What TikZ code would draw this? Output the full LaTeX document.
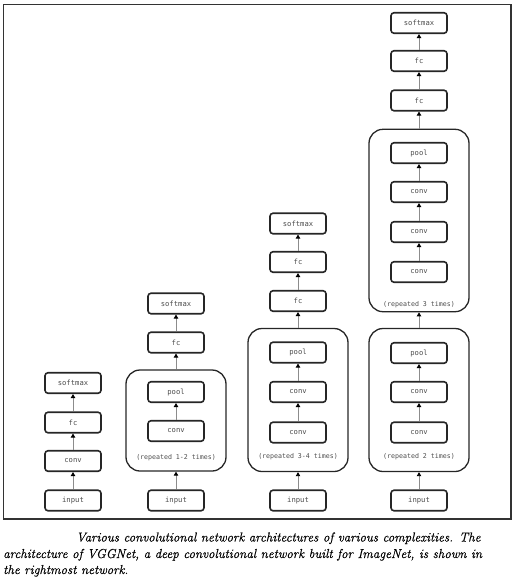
\documentclass[tikz,border=0pt]{standalone}
\usepackage{fontspec}
\newfontfamily\codefont{DejaVu Sans Mono}
\newfontfamily\capfont{Latin Modern Roman}[FakeBold=0.5]
\usetikzlibrary{arrows.meta}
\begin{document}
\begin{tikzpicture}[x=1pt,y=-1pt,
  layer/.style={draw=black!85, line width=1.6pt, rounded corners=3pt,
    minimum width=56pt, minimum height=20.5pt, inner sep=0pt,
    font=\codefont\fontsize{7.2}{8}\selectfont, text=black!70},
  block/.style={draw=black!85, line width=1.3pt, rounded corners=14pt,
    minimum width=100pt, inner sep=0pt},
  note/.style={font=\codefont\fontsize{6.6}{8}\selectfont, text=black!70, inner sep=0pt},
  flow/.style={draw=black!45, line width=0.9pt,
    -{Triangle[length=4pt,width=4.4pt,color=black]}},
  caption/.style={anchor=base west, inner sep=0pt,
    font=\capfont\itshape\fontsize{13}{16}\selectfont}
]
\useasboundingbox (0,0) rectangle (517,581);
% outer frame
\draw[line width=1.2pt, black!80] (3.5,4.5) rectangle (511,519);

% --- network 1 ---
\node[layer] (a-in)   at (73,500.5) {input};
\node[layer] (a-conv) at (73,461)   {conv};
\node[layer] (a-fc)   at (73,422.5) {fc};
\node[layer] (a-sm)   at (73,383)   {softmax};
\draw[flow] (a-in) -- (a-conv);
\draw[flow] (a-conv) -- (a-fc);
\draw[flow] (a-fc) -- (a-sm);

% --- network 2 ---
\node[block, minimum height=101pt] (b-grp) at (176,420.5) {};
\node[layer] (b-in)   at (176,500.5) {input};
\node[layer] (b-conv) at (176,431)   {conv};
\node[layer] (b-pool) at (176,392)   {pool};
\node[note]  (b-note) at (176,458)   {(repeated 1-2 times)};
\node[layer] (b-fc)   at (176,342.5) {fc};
\node[layer] (b-sm)   at (176,303.5) {softmax};
\draw[flow] (b-in) -- (b-grp);
\draw[flow] (b-conv) -- (b-pool);
\draw[flow] (b-grp) -- (b-fc);
\draw[flow] (b-fc) -- (b-sm);

% --- network 3 ---
\node[block, minimum height=143pt] (c-grp) at (298,400) {};
\node[layer] (c-in)    at (298,500.5) {input};
\node[layer] (c-conv1) at (298,432.5) {conv};
\node[layer] (c-conv2) at (298,392)   {conv};
\node[layer] (c-pool)  at (298,352.5) {pool};
\node[note]  (c-note)  at (298,457)   {(repeated 3-4 times)};
\node[layer] (c-fc1)   at (298,301)   {fc};
\node[layer] (c-fc2)   at (298,262)   {fc};
\node[layer] (c-sm)    at (298,223.5) {softmax};
\draw[flow] (c-in) -- (c-grp);
\draw[flow] (c-conv1) -- (c-conv2);
\draw[flow] (c-conv2) -- (c-pool);
\draw[flow] (c-grp) -- (c-fc1);
\draw[flow] (c-fc1) -- (c-fc2);
\draw[flow] (c-fc2) -- (c-sm);

% --- network 4 (VGGNet) ---
\node[block, minimum height=143pt] (d-grp1) at (419,400) {};
\node[layer] (d-in)    at (419,500.5) {input};
\node[layer] (d-conv1) at (419,432.5) {conv};
\node[layer] (d-conv2) at (419,392)   {conv};
\node[layer] (d-pool1) at (419,353)   {pool};
\node[note]  (d-note1) at (419,457)   {(repeated 2 times)};
\node[block, minimum height=182.4pt] (d-grp2) at (419,220.5) {};
\node[layer] (d-conv3) at (419,272)   {conv};
\node[layer] (d-conv4) at (419,232)   {conv};
\node[layer] (d-conv5) at (419,192)   {conv};
\node[layer] (d-pool2) at (419,153)   {pool};
\node[note]  (d-note2) at (419,305)   {(repeated 3 times)};
\node[layer] (d-fc1)   at (419,100.5) {fc};
\node[layer] (d-fc2)   at (419,61)    {fc};
\node[layer] (d-sm)    at (419,23)    {softmax};
\draw[flow] (d-in) -- (d-grp1);
\draw[flow] (d-conv1) -- (d-conv2);
\draw[flow] (d-conv2) -- (d-pool1);
\draw[flow] (d-grp1) -- (d-grp2);
\draw[flow] (d-conv3) -- (d-conv4);
\draw[flow] (d-conv4) -- (d-conv5);
\draw[flow] (d-conv5) -- (d-pool2);
\draw[flow] (d-grp2) -- (d-fc1);
\draw[flow] (d-fc1) -- (d-fc2);
\draw[flow] (d-fc2) -- (d-sm);

% --- caption ---
\node[caption] (cap1) at (76,541.5) {Various convolutional network architectures of various complexities. The};
\node[caption] (cap2) at (3,558)    {architecture of VGGNet, a deep convolutional network built for ImageNet, is shown in};
\node[caption] (cap3) at (3,574)    {the rightmost network.};
\end{tikzpicture}
\end{document}
